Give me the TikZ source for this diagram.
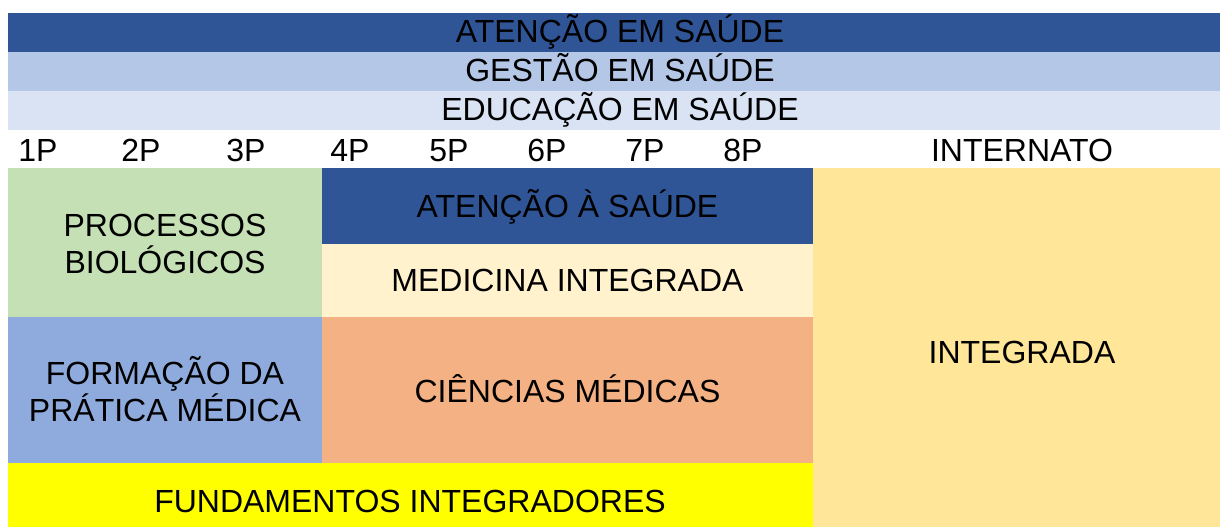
\documentclass[tikz,border=0pt]{standalone}
\usepackage{fontspec}
\setmainfont{Liberation Sans}
\usetikzlibrary{positioning}

\definecolor{azulEsc}{HTML}{2F5597}
\definecolor{azulClaro}{HTML}{B4C7E7}
\definecolor{azulPalido}{HTML}{DAE3F3}
\definecolor{azulMedio}{HTML}{8FAADC}
\definecolor{verde}{HTML}{C5E0B4}
\definecolor{creme}{HTML}{FFF2CC}
\definecolor{salmao}{HTML}{F4B183}
\definecolor{ouro}{HTML}{FFE699}
\definecolor{amarelo}{HTML}{FFFF00}

\begin{document}
\begin{tikzpicture}[x=1pt, y=-1pt, every node/.style={inner sep=0pt, text=black, font=\fontsize{32}{37}\selectfont}, linha/.style={text height=22.8pt, text depth=0pt}, bloco/.style={align=center}]
        \useasboundingbox (0,0) rectangle (1220,527);

        % Faixas transversais
        \fill[azulEsc] (8,13) rectangle (1220,52);
        \fill[azulClaro] (8,52) rectangle (1220,91);
        \fill[azulPalido] (8,91) rectangle (1220,130);

        % Blocos do curso
        \fill[verde] (8,168) rectangle (322,317);
        \fill[azulMedio] (8,317) rectangle (322,463);
        \fill[azulEsc] (322,168) rectangle (813,244);
        \fill[creme] (322,244) rectangle (813,317);
        \fill[salmao] (322,317) rectangle (813,463);
        \fill[amarelo] (8,463) rectangle (813,527);
        \fill[ouro] (813,168) rectangle (1220,527);

        % Textos das faixas
        \node[linha] (atencao) at (620,31) {ATENÇÃO EM SAÚDE};
        \node[linha] (gestao) at (620,70) {GESTÃO EM SAÚDE};
        \node[linha] (educacao) at (620,109) {EDUCAÇÃO EM SAÚDE};

        % Períodos
        \foreach \p/\x in {1/38,2/141,3/246,4/350,5/449,6/547,7/645,8/743}
            \node[linha] (p\p) at (\x,150.5) {\p P};
        \node[linha] (internato) at (1022,150.5) {INTERNATO};

        % Eixos
        \node[bloco] (processos) at (165,244) {PROCESSOS\\BIOLÓGICOS};
        \node[bloco] (formacao) at (165,389.5) {FORMAÇÃO DA\\PRÁTICA MÉDICA};
        \node[linha] (atsaude) at (567.5,206) {ATENÇÃO À SAÚDE};
        \node[linha] (medicina) at (567.5,280.5) {MEDICINA INTEGRADA};
        \node[linha] (ciencias) at (567.5,391) {CIÊNCIAS MÉDICAS};
        \node[linha] (integrada) at (1022,352.5) {INTEGRADA};
        \node[linha] (fundamentos) at (410,501) {FUNDAMENTOS INTEGRADORES};
    \end{tikzpicture}
\end{document}
